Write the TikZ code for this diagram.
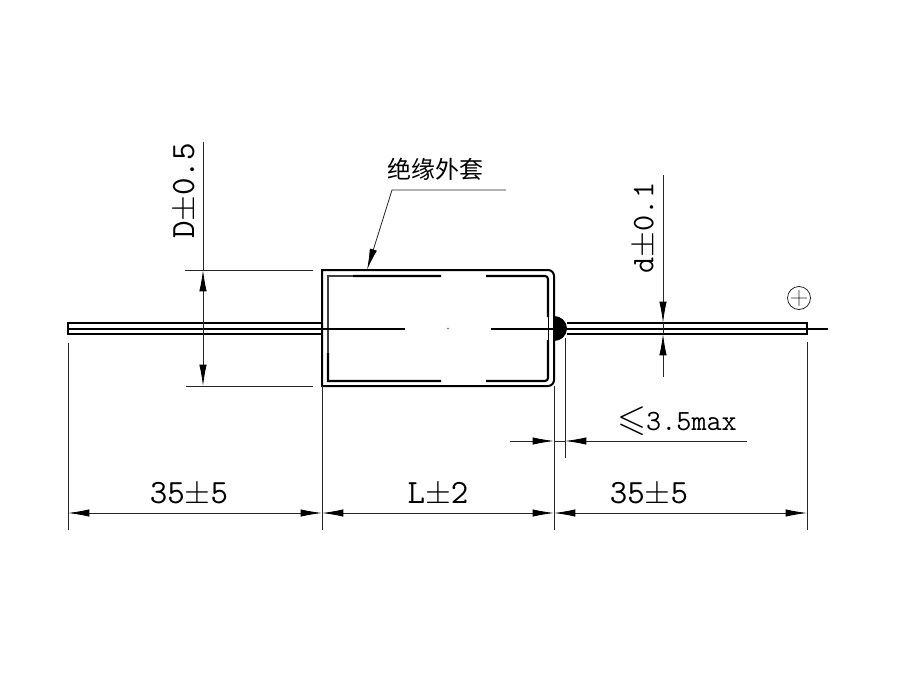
\documentclass[tikz,border=0pt]{standalone}
\usepackage{amssymb}
\usepackage{fontspec}
\newfontfamily\cjkfont{Noto Sans CJK SC}
\usetikzlibrary{arrows.meta}
\tikzset{
  dimhead/.tip={Latex[length=16pt,width=5.5pt,black]},
  dimtip/.style={-dimhead},
  dimboth/.style={dimhead-dimhead},
  thin line/.style={line width=.6pt,black!85},
  body line/.style={line width=1.5pt},
  big label/.style={font=\fontsize{25.5}{26}\selectfont\ttfamily,inner sep=0pt},
  small label/.style={font=\fontsize{22}{22}\selectfont\ttfamily,inner sep=0pt}
}
\begin{document}
\begin{tikzpicture}[x=.75pt,y=-.75pt]
      \useasboundingbox (0,0) rectangle (900,674);
      % case
      \draw[body line](322,270)--(548,270)to[out=0,in=90](554,276)--(554,380)to[out=-90,in=0](548,386)--(322,386)--cycle;
      \draw[line width=.9pt,black!75](353,276)--(328,276)--(328,353);
      \draw[line width=1.6pt](353,276)--(441,276) (486,276)--(545,276)to[out=0,in=90](548,279)--(548,317);
      \draw[line width=.7pt](548,317)--(548,340);
      \draw[line width=1.6pt](548,340)--(548,378)to[out=-90,in=0](545,381)--(486,381) (441,381)--(328,381)--(328,353);
      % leads
      \draw[body line](322,322.5)--(68,322.5)--(68,334)--(322,334);
      \draw[line width=1.5pt](68,328.5)--(405,328.5) (491,328.5)--(554,328.5);
      \fill[black!60](448,328.5)circle(.8);
      \fill(554,316)arc(-90:90:13 and 12.5)--cycle;
      \draw[body line](567,323)--(807,323)--(807,334)--(567,334);
      \draw[line width=1.5pt](567,328.5)--(828,328.5);
      % polarity
      \draw[thin line](799,298)circle(11.5) (791,298)--(807,298) (799,290)--(799,306);
      % extension lines
      \foreach \x/\y in {68/343,322/386,554/386,807/342}{
        \draw[thin line](\x,\y)--(\x,530);
      }
      \draw[thin line](565,338)--(565,458);
      \draw[thin line](185,270)--(313,270) (186,386)--(313,386);
      % dimensions
      \draw[thin line,dimboth](68,513)--(322,513);
      \draw[thin line,dimboth](322,513)--(554,513);
      \draw[thin line,dimboth](554,513)--(807,513);
      \draw[thin line,dimboth](203,270)--(203,386);
      \draw[thin line](203,142)--(203,270);
      \draw[thin line,dimtip](663,175)--(663,323);
      \draw[thin line,dimtip](663,377)--(663,334);
      \draw[thin line](663,323)--(663,334);
      \draw[thin line,dimtip](510,441)--(554,441);
      \draw[thin line,dimtip](747,441)--(565,441);
      \draw[thin line](554,441)--(565,441);
      % leader
      \draw[thin line,dimtip](506,190)--(392,190)--(367,270);
      % labels
      \node[big label](leadleft) at (189,494){35$\pm$5};
      \node[big label](bodylen) at (438,494){L$\pm$2};
      \node[big label](leadright) at (649,494){35$\pm$5};
      \node[big label,rotate=90](dia) at (185,191){D$\pm$0.5};
      \node[inner sep=0pt,rotate=90,font=\fontsize{23.5}{24}\selectfont\ttfamily](wire) at (645,228){d$\pm$0.1};
      \node[small label](gap) at (677,421){{\fontsize{28}{28}\selectfont$\leqslant$}3.5max};
      \node[inner sep=0pt,font=\fontsize{18}{18}\selectfont\cjkfont](sleeve) at (435,169){绝缘外套};
    \end{tikzpicture}
\end{document}
